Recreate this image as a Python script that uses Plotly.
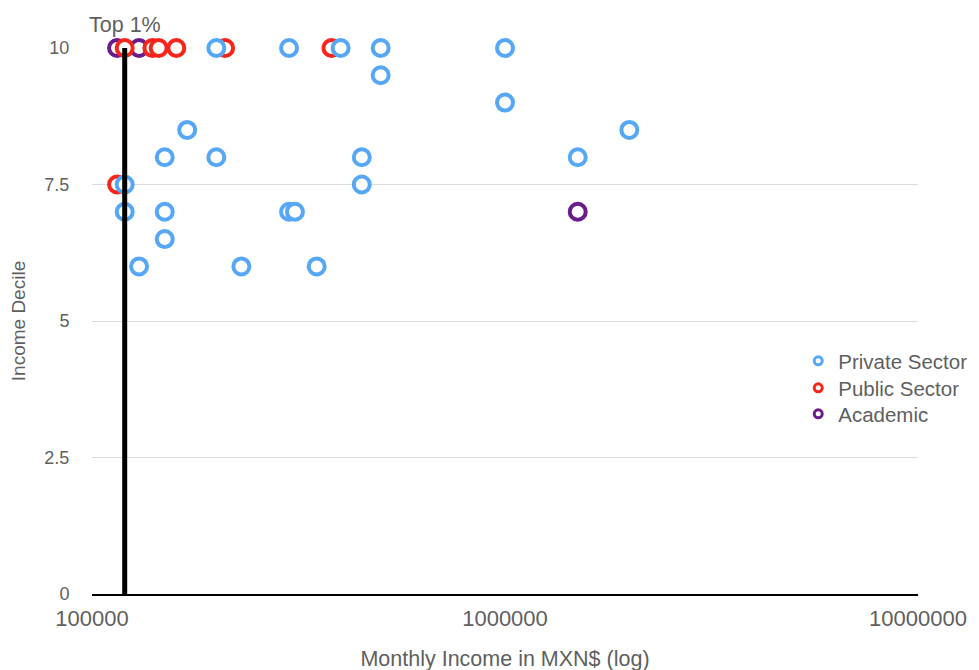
import plotly.graph_objects as go
import math

# Private Sector
private_x = [200000, 300000, 400000, 500000, 1000000, 500000, 1000000, 170000, 2000000,
             150000, 200000, 450000, 1500000, 120000, 450000, 120000, 150000, 300000,
             310000, 150000, 130000, 230000, 350000]
private_y = [10, 10, 10, 10, 10, 9.5, 9, 8.5, 8.5,
             8, 8, 8, 8, 7.5, 7.5, 7, 7, 7,
             7, 6.5, 6, 6, 6]

# Public Sector
public_x = [115000, 120000, 140000, 145000, 160000, 210000, 380000]
public_y = [7.5, 10, 10, 10, 10, 10, 10]

# Academic
academic_x = [115000, 130000, 1500000]
academic_y = [10, 10, 7]

# Top 1% threshold line
top1_x = [120000, 120000]
top1_y = [0, 10]
top1_label = "Top 1%"

x_ticks = [100000, 1000000, 10000000]
x_ticktext = ["100000", "1000000", "10000000"]
y_ticks = [0, 2.5, 5, 7.5, 10]
y_ticktext = ["0", "2.5", "5", "7.5", "10"]

BLUE = "#56A8F7"
RED = "#F8251B"
PURPLE = "#6A1B8C"
GRAY = "#5f5f5f"
FONT = "Liberation Sans, Arial, sans-serif"

fig = go.Figure()

def ring(name, xs, ys, color):
    return go.Scatter(
        x=xs, y=ys, mode="markers", name=name, showlegend=False,
        marker=dict(symbol="circle", size=16, color="white",
                    line=dict(color=color, width=4)),
        cliponaxis=False,
    )

fig.add_trace(ring("Academic", academic_x, academic_y, PURPLE))
fig.add_trace(ring("Public Sector", public_x, public_y, RED))
fig.add_trace(ring("Private Sector", private_x, private_y, BLUE))

fig.add_trace(go.Scatter(
    x=top1_x, y=top1_y, mode="lines", showlegend=False,
    line=dict(color="black", width=5), cliponaxis=False, hoverinfo="skip",
))

# legend entries (smaller rings, as in the reference legend)
series_legend = [("Private Sector", BLUE, "legend"),
                 ("Public Sector", RED, "legend2"),
                 ("Academic", PURPLE, "legend3")]
for name, color, lg in series_legend:
    fig.add_trace(go.Scatter(
        x=[None], y=[None], mode="markers", name=name, legend=lg,
        marker=dict(symbol="circle", size=8, color="white",
                    line=dict(color=color, width=3)),
    ))

fig.add_annotation(
    x=math.log10(top1_x[1]), y=top1_y[1], text=top1_label, showarrow=False,
    yanchor="bottom", yshift=9, font=dict(size=21.5, color=GRAY, family=FONT),
)

legend_common = dict(
    x=0.855, xanchor="left", yanchor="middle",
    font=dict(size=20.5, color=GRAY, family=FONT),
    bgcolor="rgba(0,0,0,0)",
)

# the page body adds an 8px offset; margins below compensate for it
fig.update_layout(
    width=979, height=670,
    margin=dict(l=84, r=69, t=40, b=84),
    plot_bgcolor="white", paper_bgcolor="white",
    font=dict(family=FONT, color=GRAY, size=17),
    legend=dict(y=0.4267, **legend_common),
    legend2=dict(y=0.3773, **legend_common),
    legend3=dict(y=0.3297, **legend_common),
    xaxis=dict(
        type="log", range=[5, 7], tickvals=x_ticks, ticktext=x_ticktext,
        showgrid=False, zeroline=False, automargin=False,
        showline=True, linecolor="black", linewidth=2,
        ticks="outside", ticklen=4, tickcolor="white",
        tickfont=dict(size=22, color=GRAY),
        title=dict(text="Monthly Income in MXN$ (log)", font=dict(size=21.5, color=GRAY), standoff=21),
    ),
    yaxis=dict(
        range=[0, 10], tickvals=y_ticks, ticktext=y_ticktext,
        showgrid=True, gridcolor="#dcdcdc", gridwidth=1, zeroline=False, automargin=False,
        showline=False, ticks="outside", ticklen=18, tickcolor="white",
        tickfont=dict(size=18, color=GRAY),
        title=dict(text="Income Decile", font=dict(size=19, color=GRAY), standoff=22),
    ),
)

fig.write_html("out.html")
